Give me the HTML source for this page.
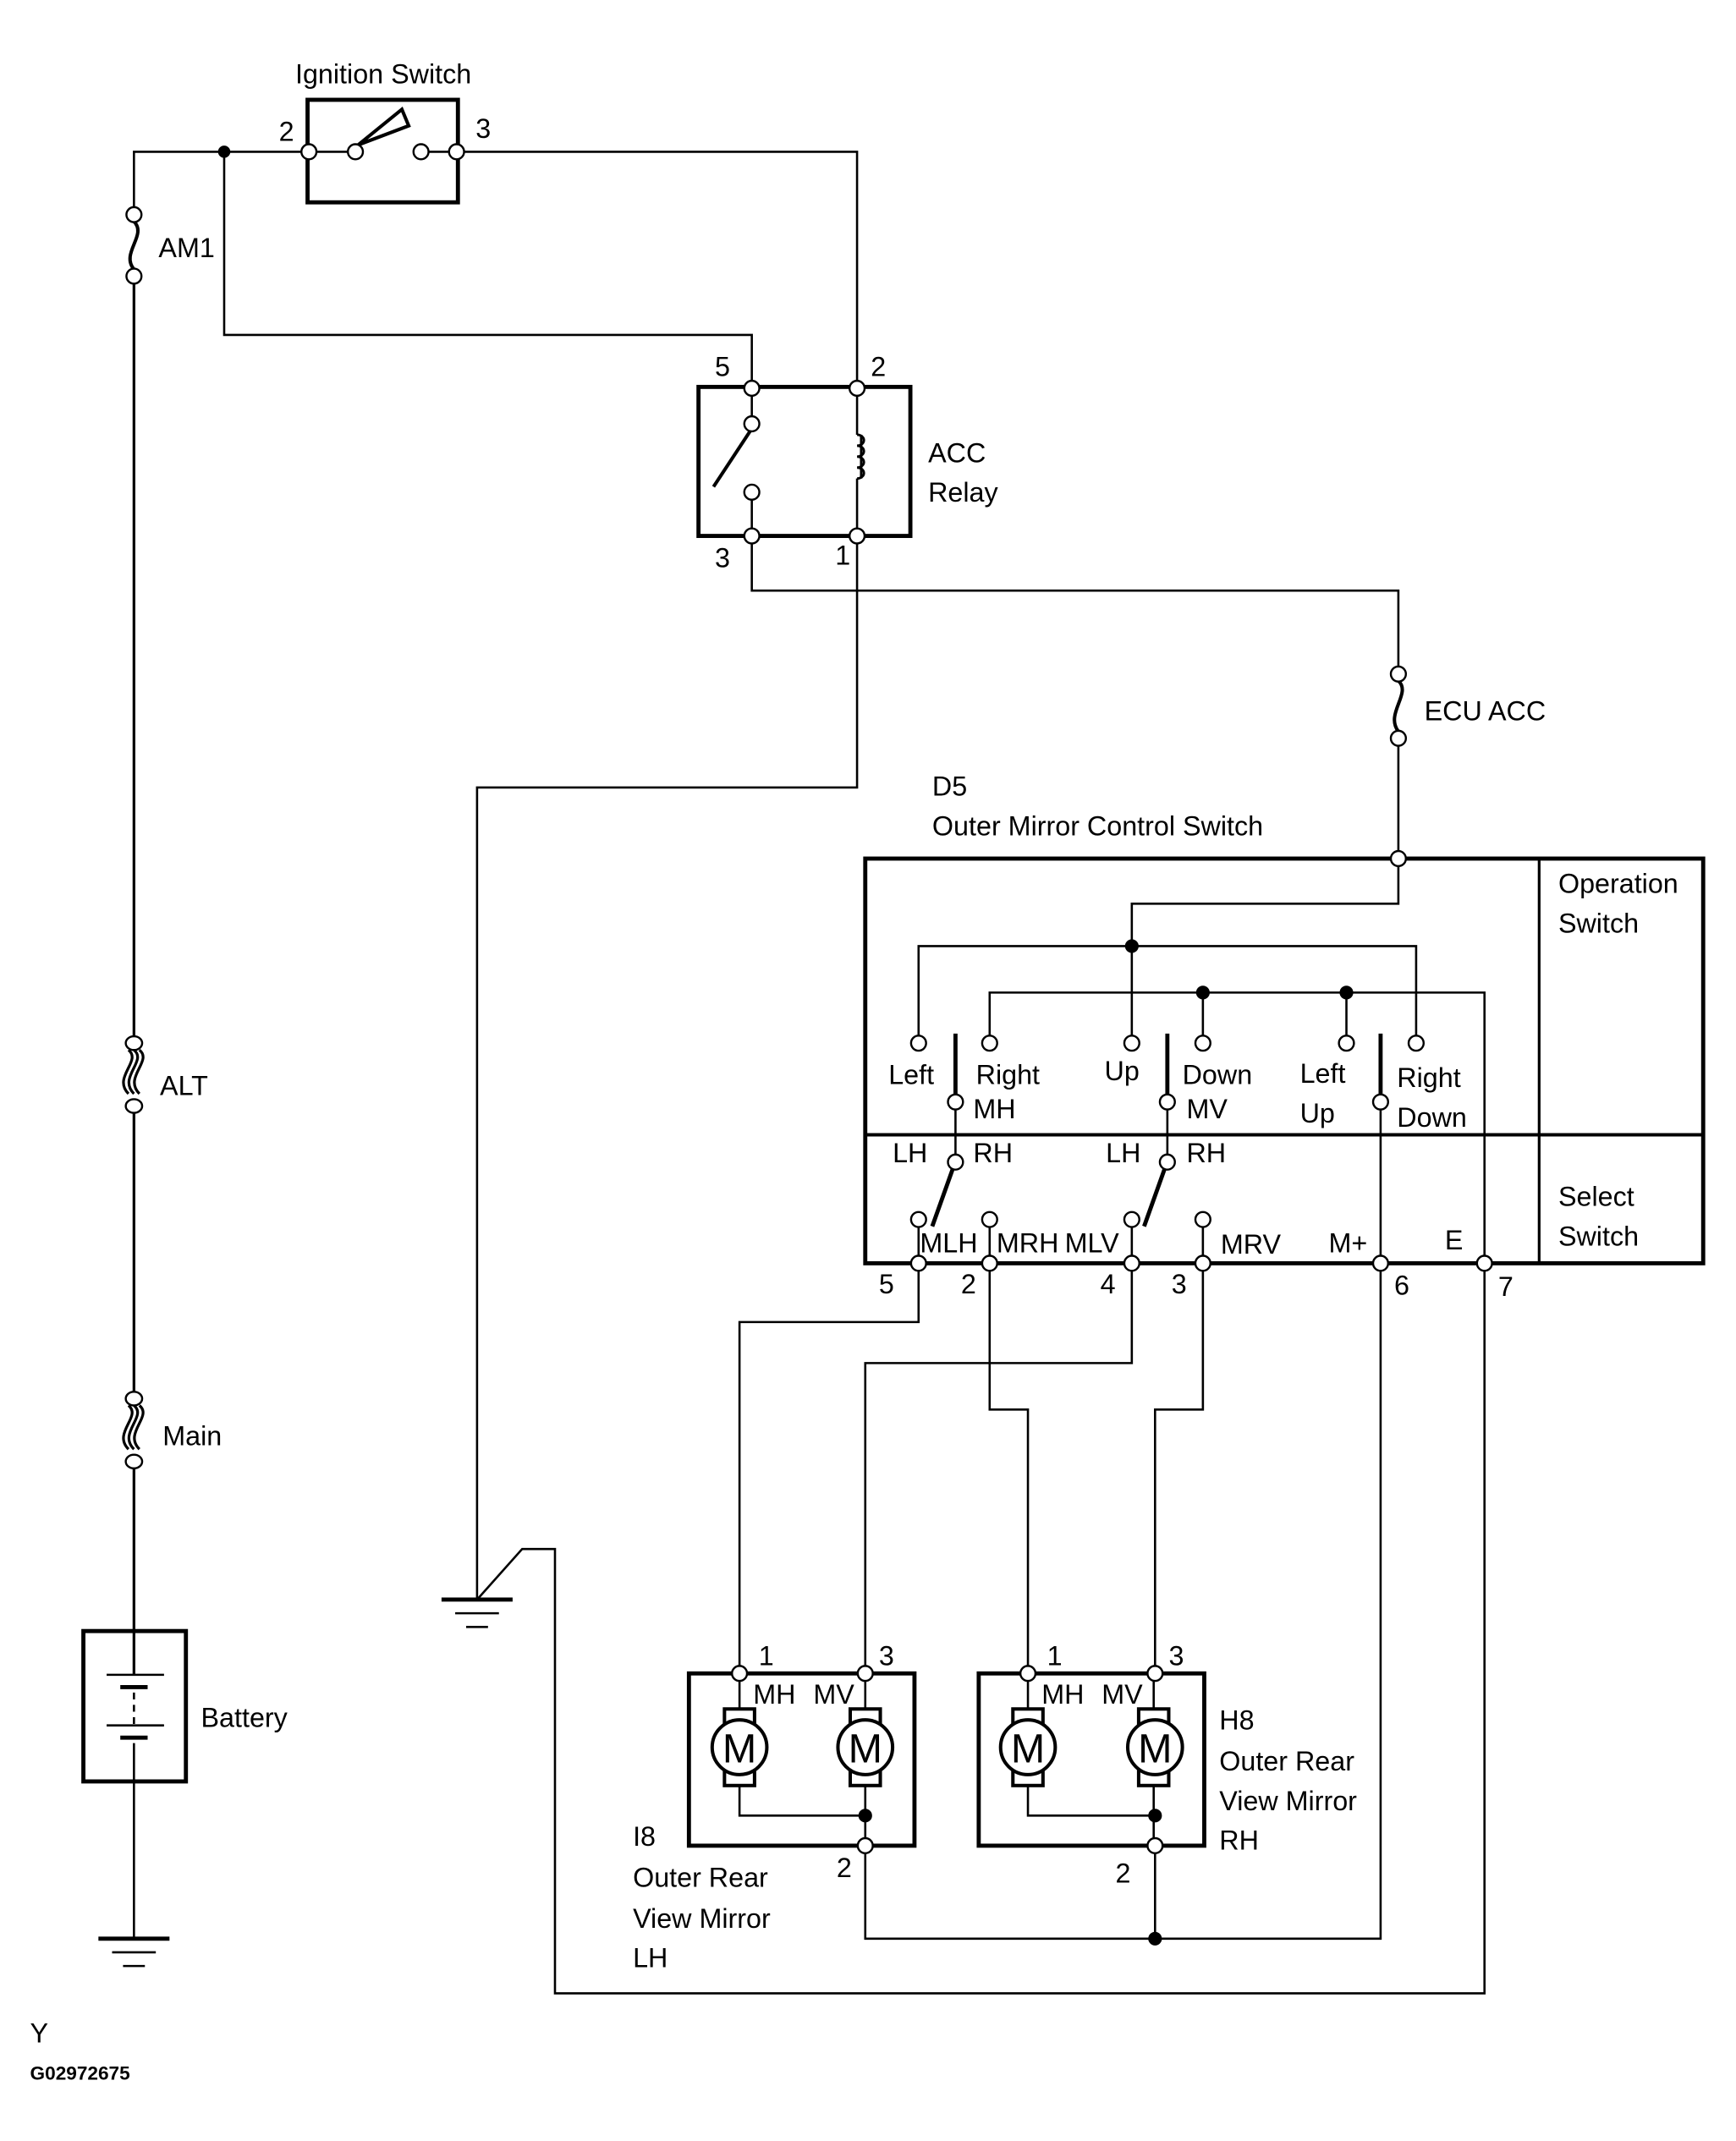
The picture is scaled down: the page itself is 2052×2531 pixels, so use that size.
<!DOCTYPE html>
<html><head><meta charset="utf-8"><style>
html,body{margin:0;padding:0;background:#fff}
svg{display:block}
text{font-family:"Liberation Sans",Arial,sans-serif;font-size:20px;fill:#000}
text.mm{font-size:30px}
</style></head><body>
<svg xmlns="http://www.w3.org/2000/svg" width="2052" height="2531" viewBox="0 0 1270 1566" preserveAspectRatio="none">
<g fill="none" stroke="#000" stroke-width="1.6">
<polyline points="226,111 98,111 98,157"/>
<line x1="98" y1="202" x2="98" y2="763" stroke-width="2"/>
<line x1="98" y1="809" x2="98" y2="1023" stroke-width="2"/>
<line x1="98" y1="1069" x2="98" y2="1225" stroke-width="2"/>
<line x1="98" y1="1275" x2="98" y2="1418"/>
<polyline points="164,111 164,245 550,245 550,284"/>
<polyline points="334,111 627,111 627,284"/>
<polyline points="550,392 550,432 1023,432 1023,493"/>
<line x1="1023" y1="540" x2="1023" y2="628"/>
<polyline points="627,392 627,576 349,576 349,1170"/>
<polyline points="349,1170 382,1133 406,1133 406,1458 1086,1458 1086,924"/>
<rect x="225" y="73" width="110" height="75" stroke-width="3"/>
<line x1="226" y1="111" x2="255" y2="111"/><line x1="313" y1="111" x2="334" y2="111"/>
<polygon points="262,106 294,80 299,92" stroke-width="2.5"/>
<path d="M98,162 C108,172 88,185 98,197" stroke-width="2.5"/>
<path d="M98,1028 C108,1036 86,1048 98,1060 M94,1028 C104,1036 82,1048 94,1060 M102,1028 C112,1036 90,1048 102,1060" stroke-width="2"/>
<path d="M98,768 C108,776 86,788 98,800 M94,768 C104,776 82,788 94,800 M102,768 C112,776 90,788 102,800" stroke-width="2"/>
<path d="M1023,498 C1033,507 1013,522 1023,535" stroke-width="2.5"/>
<rect x="61" y="1193" width="75" height="110" stroke-width="3"/>
<line x1="78" y1="1225" x2="120" y2="1225"/>
<line x1="88" y1="1234" x2="108" y2="1234" stroke-width="3"/>
<line x1="98" y1="1238" x2="98" y2="1262" stroke-dasharray="5,4"/>
<line x1="78" y1="1262" x2="120" y2="1262"/>
<line x1="88" y1="1271" x2="108" y2="1271" stroke-width="3"/>
<line x1="72" y1="1418" x2="124" y2="1418" stroke-width="3"/>
<line x1="82" y1="1428" x2="114" y2="1428"/><line x1="90" y1="1438" x2="106" y2="1438"/>
<line x1="323" y1="1170" x2="375" y2="1170" stroke-width="3"/>
<line x1="333" y1="1180" x2="365" y2="1180"/><line x1="341" y1="1190" x2="357" y2="1190"/>
<rect x="511" y="283" width="155" height="109" stroke-width="3"/>
<line x1="550" y1="284" x2="550" y2="305"/><line x1="550" y1="365" x2="550" y2="392"/>
<line x1="549" y1="315" x2="522" y2="356" stroke-width="2.5"/>
<line x1="627" y1="284" x2="627" y2="318"/><line x1="627" y1="350" x2="627" y2="392"/>
<path d="M627,318 a5,4 0 1,1 0,8 a5,4 0 1,1 0,8 a5,4 0 1,1 0,8 a5,4 0 1,1 0,8" stroke-width="1.8"/>
<line x1="630" y1="318" x2="630" y2="350" stroke-width="1.8"/>
<rect x="633" y="628" width="613" height="296" stroke-width="3"/>
<line x1="1126" y1="628" x2="1126" y2="924" stroke-width="2"/>
<line x1="633" y1="830" x2="1246" y2="830" stroke-width="2.5"/>
<polyline points="1023,628 1023,661 828,661 828,758"/>
<polyline points="672,758 672,692 1036,692 1036,758"/>
<polyline points="724,758 724,726 1086,726 1086,924"/>
<line x1="880" y1="726" x2="880" y2="758"/><line x1="985" y1="726" x2="985" y2="758"/>
<line x1="699" y1="756" x2="699" y2="801" stroke-width="3"/>
<line x1="854" y1="756" x2="854" y2="801" stroke-width="3"/>
<line x1="1010" y1="756" x2="1010" y2="801" stroke-width="3"/>
<line x1="699" y1="811" x2="699" y2="845"/><line x1="854" y1="811" x2="854" y2="845"/>
<line x1="1010" y1="811" x2="1010" y2="924"/>
<line x1="697" y1="855" x2="682" y2="897" stroke-width="3"/>
<line x1="852" y1="855" x2="837" y2="897" stroke-width="3"/>
<line x1="672" y1="897" x2="672" y2="924"/><line x1="724" y1="897" x2="724" y2="924"/>
<line x1="828" y1="897" x2="828" y2="924"/><line x1="880" y1="897" x2="880" y2="924"/>
<polyline points="672,924 672,967 541,967 541,1224"/>
<polyline points="828,924 828,997 633,997 633,1224"/>
<polyline points="724,924 724,1031 752,1031 752,1224"/>
<polyline points="880,924 880,1031 845,1031 845,1224"/>
<polyline points="633,1350 633,1418 1010,1418 1010,924"/>
<line x1="845" y1="1350" x2="845" y2="1418"/>
<rect x="504" y="1224" width="165" height="126" stroke-width="3"/>
<rect x="716" y="1224" width="165" height="126" stroke-width="3"/>
<g id="m">
<line x1="541" y1="1224" x2="541" y2="1250"/>
<line x1="633" y1="1224" x2="633" y2="1250"/>
<rect x="530" y="1250" width="22" height="56" stroke-width="2.5"/>
<rect x="622" y="1250" width="22" height="56" stroke-width="2.5"/>
<polyline points="541,1306 541,1328 633,1328"/>
<line x1="633" y1="1306" x2="633" y2="1350"/>
</g>
<use href="#m" x="211"/>
</g>
<g fill="#fff" stroke="#000" stroke-width="2.5">
<circle cx="541" cy="1278" r="20"/><circle cx="633" cy="1278" r="20"/>
<circle cx="752" cy="1278" r="20"/><circle cx="845" cy="1278" r="20"/>
</g>
<g text-anchor="middle">
<text class="mm" x="541" y="1289">M</text><text class="mm" x="633" y="1289">M</text>
<text class="mm" x="752" y="1289">M</text><text class="mm" x="845" y="1289">M</text>
</g>
<g fill="#fff" stroke="#000" stroke-width="1.5">
<circle cx="226" cy="111" r="5.5"/><circle cx="334" cy="111" r="5.5"/>
<circle cx="260" cy="111" r="5.5"/><circle cx="308" cy="111" r="5.5"/>
<circle cx="98" cy="157" r="5.5"/><circle cx="98" cy="202" r="5.5"/>
<ellipse cx="98" cy="763" rx="6" ry="5"/><ellipse cx="98" cy="809" rx="6" ry="5"/>
<ellipse cx="98" cy="1023" rx="6" ry="5"/><ellipse cx="98" cy="1069" rx="6" ry="5"/>
<circle cx="1023" cy="493" r="5.5"/><circle cx="1023" cy="540" r="5.5"/>
<circle cx="550" cy="284" r="5.5"/><circle cx="627" cy="284" r="5.5"/>
<circle cx="550" cy="392" r="5.5"/><circle cx="627" cy="392" r="5.5"/>
<circle cx="550" cy="310" r="5.5"/><circle cx="550" cy="360" r="5.5"/>
<circle cx="1023" cy="628" r="5.5"/>
<circle cx="672" cy="763" r="5.5"/><circle cx="724" cy="763" r="5.5"/><circle cx="828" cy="763" r="5.5"/>
<circle cx="880" cy="763" r="5.5"/><circle cx="985" cy="763" r="5.5"/><circle cx="1036" cy="763" r="5.5"/>
<circle cx="699" cy="806" r="5.5"/><circle cx="854" cy="806" r="5.5"/><circle cx="1010" cy="806" r="5.5"/>
<circle cx="699" cy="850" r="5.5"/><circle cx="854" cy="850" r="5.5"/>
<circle cx="672" cy="892" r="5.5"/><circle cx="724" cy="892" r="5.5"/>
<circle cx="828" cy="892" r="5.5"/><circle cx="880" cy="892" r="5.5"/>
<circle cx="672" cy="924" r="5.5"/><circle cx="724" cy="924" r="5.5"/><circle cx="828" cy="924" r="5.5"/>
<circle cx="880" cy="924" r="5.5"/><circle cx="1010" cy="924" r="5.5"/><circle cx="1086" cy="924" r="5.5"/>
<circle cx="541" cy="1224" r="5.5"/><circle cx="633" cy="1224" r="5.5"/>
<circle cx="752" cy="1224" r="5.5"/><circle cx="845" cy="1224" r="5.5"/>
<circle cx="633" cy="1350" r="5.5"/><circle cx="845" cy="1350" r="5.5"/>
</g>
<g fill="#000">
<circle cx="164" cy="111" r="4.5"/><circle cx="828" cy="692" r="5"/>
<circle cx="880" cy="726" r="5"/><circle cx="985" cy="726" r="5"/>
<circle cx="633" cy="1328" r="5"/><circle cx="845" cy="1328" r="5"/>
<circle cx="845" cy="1418" r="5"/>
</g>
<text x="216" y="61">Ignition Switch</text>
<text x="204" y="103">2</text><text x="348" y="101">3</text>
<text x="116" y="188">AM1</text><text x="117" y="801">ALT</text>
<text x="119" y="1057">Main</text><text x="147" y="1263">Battery</text>
<text x="523" y="275">5</text><text x="637" y="275">2</text>
<text x="523" y="415">3</text><text x="611" y="413">1</text>
<text x="679" y="338">ACC</text><text x="679" y="367">Relay</text>
<text x="1042" y="527">ECU ACC</text>
<text x="682" y="582">D5</text><text x="682" y="611">Outer Mirror Control Switch</text>
<text x="1140" y="653">Operation</text><text x="1140" y="682">Switch</text>
<text x="1140" y="882">Select</text><text x="1140" y="911">Switch</text>
<text x="650" y="793">Left</text><text x="714" y="793">Right</text><text x="712" y="818">MH</text>
<text x="808" y="790">Up</text><text x="865" y="793">Down</text><text x="868" y="818">MV</text>
<text x="951" y="792">Left</text><text x="951" y="821">Up</text>
<text x="1022" y="795">Right</text><text x="1022" y="824">Down</text>
<text x="653" y="850">LH</text><text x="712" y="850">RH</text>
<text x="809" y="850">LH</text><text x="868" y="850">RH</text>
<text x="673" y="916">MLH</text><text x="729" y="916">MRH</text><text x="779" y="916">MLV</text>
<text x="893" y="917">MRV</text><text x="972" y="916">M+</text><text x="1057" y="914">E</text>
<text x="643" y="946">5</text><text x="703" y="946">2</text><text x="805" y="946">4</text>
<text x="857" y="946">3</text><text x="1020" y="947">6</text><text x="1096" y="948">7</text>
<text x="555" y="1218">1</text><text x="643" y="1218">3</text>
<text x="551" y="1246">MH</text><text x="595" y="1246">MV</text>
<text x="612" y="1373">2</text>
<text x="766" y="1218">1</text><text x="855" y="1218">3</text>
<text x="762" y="1246">MH</text><text x="806" y="1246">MV</text>
<text x="816" y="1377">2</text>
<text x="463" y="1350">I8</text><text x="463" y="1380">Outer Rear</text>
<text x="463" y="1410">View Mirror</text><text x="463" y="1439">LH</text>
<text x="892" y="1265">H8</text><text x="892" y="1295">Outer Rear</text>
<text x="892" y="1324">View Mirror</text><text x="892" y="1353">RH</text>
<text x="22" y="1494">Y</text>
<text x="22" y="1521" style="font-size:14px;font-weight:bold">G02972675</text>
</svg>
</body></html>
